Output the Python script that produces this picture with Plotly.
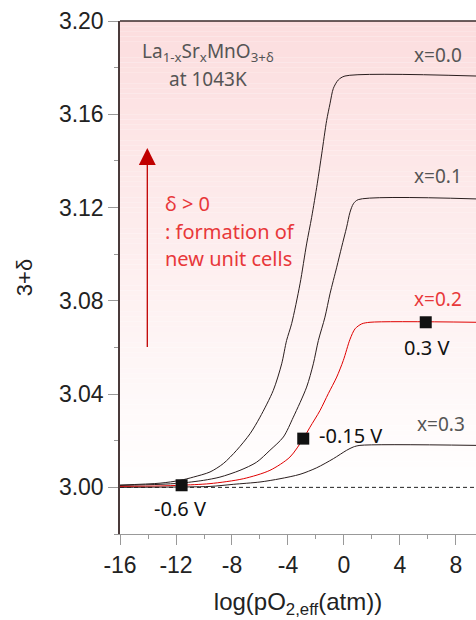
import plotly.graph_objects as go

# log(pO2,eff) readings and oxygen content 3+delta for each Sr content x
x00_logp = [-16.0, -13.14, -11.71, -10.76, -9.57, -8.62, -7.67, -6.71, -6.0, -5.05, -4.45, -4.1,
            -3.74, -3.14, -2.67, -2.31, -1.91, -1.59, -1.24, -1.0, -0.76, -0.41, 0.07, 9.43]
x00_oxy = [3.0010, 3.0018, 3.0030, 3.0044, 3.0066, 3.0102, 3.0159, 3.0230, 3.0301, 3.0416, 3.0530, 3.0630,
           3.0702, 3.0873, 3.1044, 3.1158, 3.1302, 3.1430, 3.1573, 3.1645, 3.1711, 3.1747, 3.1764, 3.1764]

x01_logp = [-16.0, -13.14, -11.71, -10.05, -8.86, -7.43, -6.24, -5.29, -4.33, -3.62, -2.67, -2.19,
            -1.83, -1.36, -1.0, -0.52, -0.17, 0.19, 0.43, 0.67, 1.02, 9.43]
x01_oxy = [3.0008, 3.0013, 3.0018, 3.0030, 3.0044, 3.0073, 3.0108, 3.0159, 3.0216, 3.0301, 3.0430, 3.0530,
           3.0630, 3.0730, 3.0830, 3.0944, 3.1030, 3.1116, 3.1180, 3.1216, 3.1234, 3.1237]

x02_logp = [-16.0, -13.14, -11.71, -9.57, -7.19, -5.29, -3.86, -2.91, -2.43, -1.71, -1.12, -0.52,
            -0.05, 0.43, 0.79, 1.26, 1.86, 9.43]
x02_oxy = [3.0004, 3.0006, 3.0009, 3.0016, 3.0037, 3.0073, 3.0130, 3.0209, 3.0258, 3.0330, 3.0402, 3.0473,
           3.0544, 3.0635, 3.0680, 3.0701, 3.0708, 3.0708]

x03_logp = [-16.0, -13.1, -9.57, -7.91, -6.0, -4.57, -3.14, -1.95, -0.76, 0.19, 0.66, 1.14, 9.43]
x03_oxy = [3.0000, 3.0001, 3.0004, 3.0013, 3.0023, 3.0037, 3.0056, 3.0084, 3.0123, 3.0159, 3.0173, 3.0180, 3.0180]

series_labels = ["x=0.0", "x=0.1", "x=0.2", "x=0.3"]
label_logp = [6.68, 6.68, 6.68, 6.93]
label_oxy = [3.1853, 3.1334, 3.0809, 3.0273]

# applied bias points on the x=0.2 curve
bias_labels = ["0.3 V", "-0.15 V", "-0.6 V"]
bias_logp = [5.84, -2.91, -11.6]
bias_oxy = [3.0708, 3.0209, 3.0009]
bias_text_logp = [5.86, 0.5, -11.68]
bias_text_oxy = [3.0598, 3.0223, 2.9910]

# axis ticks (plain hyphen minus signs)
x_tickvals = [-16, -12, -8, -4, 0, 4, 8]
x_ticktext = ["-16", "-12", "-8", "-4", "0", "4", "8"]
y_tickvals = [3.00, 3.04, 3.08, 3.12, 3.16, 3.20]
y_ticktext = ["3.00", "3.04", "3.08", "3.12", "3.16", "3.20"]

X_RANGE = [-16, 9.43]
Y_RANGE = [2.98, 3.20]

CURVE_DARK = "#2a1e1e"
CURVE_RED = "#e00000"

fig = go.Figure()

# pink-to-white vertical gradient behind the curves
shapes = []
n_bands = 90
y_top, y_white = 3.20, 3.0
top_rgb = (252, 221, 222)
for i in range(n_bands):
    y0 = y_white + (y_top - y_white) * i / n_bands
    y1 = y_white + (y_top - y_white) * (i + 1) / n_bands
    f = (i + 0.5) / n_bands
    r = round(255 + (top_rgb[0] - 255) * f)
    g = round(255 + (top_rgb[1] - 255) * f)
    b = round(255 + (top_rgb[2] - 255) * f)
    shapes.append(dict(type="rect", xref="paper", yref="y", x0=0, x1=1, y0=y0, y1=y1,
                       fillcolor=f"rgb({r},{g},{b})", line=dict(width=0), layer="below"))

# top frame line
shapes.append(dict(type="line", xref="paper", yref="paper", x0=0, x1=1, y0=1, y1=1,
                   line=dict(color="#3a2a2a", width=1.5)))

# delta = 0 reference
fig.add_trace(go.Scatter(x=X_RANGE, y=[3.0, 3.0], mode="lines",
                         line=dict(color="#222", width=1, dash="4px,3px"),
                         hoverinfo="skip", showlegend=False))

curves = [(x00_logp, x00_oxy, CURVE_DARK), (x01_logp, x01_oxy, CURVE_DARK),
          (x02_logp, x02_oxy, CURVE_RED), (x03_logp, x03_oxy, CURVE_DARK)]
for (xs, ys, col), name in zip(curves, series_labels):
    fig.add_trace(go.Scatter(x=xs, y=ys, mode="lines", name=name,
                             line=dict(color=col, width=1, shape="spline", smoothing=0.8),
                             showlegend=False))

fig.add_trace(go.Scatter(x=bias_logp, y=bias_oxy, mode="markers",
                         marker=dict(symbol="square", size=12, color="#111"),
                         showlegend=False))

annotations = []
label_colors = ["#555555", "#555555", "#e8383a", "#555555"]
for t, lx, ly, c in zip(series_labels, label_logp, label_oxy, label_colors):
    annotations.append(dict(x=lx, y=ly, xref="x", yref="y", text=t, showarrow=False,
                            font=dict(family="Noto Sans", size=19, color=c)))

for t, lx, ly in zip(bias_labels, bias_text_logp, bias_text_oxy):
    annotations.append(dict(x=lx, y=ly, xref="x", yref="y", text=t, showarrow=False,
                            font=dict(family="Noto Sans", size=20, color="#111")))

annotations += [
    dict(x=-9.7, y=3.1868, xref="x", yref="y", showarrow=False,
         text="La<sub>1-x</sub>Sr<sub>x</sub>MnO<sub>3+δ</sub>",
         font=dict(family="Noto Sans", size=19, color="#555555")),
    dict(x=-9.7, y=3.1750, xref="x", yref="y", showarrow=False, text="at 1043K",
         font=dict(family="Noto Sans", size=19, color="#555555")),
    dict(x=-12.93, y=3.1218, xref="x", yref="y", xanchor="left", showarrow=False, text="δ > 0",
         font=dict(family="Noto Sans", size=20, color="#e8383a")),
    dict(x=-12.93, y=3.1097, xref="x", yref="y", xanchor="left", showarrow=False, text=": formation of",
         font=dict(family="Noto Sans", size=20, color="#e8383a")),
    dict(x=-12.93, y=3.0982, xref="x", yref="y", xanchor="left", showarrow=False, text="new unit cells",
         font=dict(family="Noto Sans", size=20, color="#e8383a")),
    # upward arrow
    dict(x=-14.05, y=3.1455, ax=-14.05, ay=3.0596, xref="x", yref="y", axref="x", ayref="y",
         text="", showarrow=True, arrowhead=2, arrowsize=2.6, arrowwidth=1.3, arrowcolor="#c00000"),
]

tick_font = dict(family="Liberation Sans, Arial", size=23, color="#222")

fig.update_layout(
    width=476, height=620,
    margin=dict(l=120, r=0, t=21, b=86),
    paper_bgcolor="white", plot_bgcolor="white",
    shapes=shapes, annotations=annotations,
    xaxis=dict(range=X_RANGE, tickmode="array", tickvals=x_tickvals, ticktext=x_ticktext,
               ticks="outside", ticklen=10, tickwidth=1,
               tickcolor="#999", showline=True, linecolor="#999", linewidth=1,
               showgrid=False, zeroline=False, tickfont=tick_font,
               minor=dict(tickmode="linear", tick0=-16, dtick=2, ticks="outside", ticklen=4,
                          tickcolor="#999", showgrid=False),
               title=dict(text="log(pO<sub>2,eff</sub>(atm))", standoff=16,
                          font=dict(family="Liberation Sans, Arial", size=24, color="#222"))),
    yaxis=dict(range=Y_RANGE, tickmode="array", tickvals=y_tickvals, ticktext=y_ticktext,
               ticks="outside", ticklen=10, tickwidth=1, tickcolor="#999", showline=True,
               linecolor="#4a3a3a", linewidth=1.5, showgrid=False, zeroline=False, tickfont=tick_font,
               minor=dict(tickmode="linear", tick0=2.98, dtick=0.02, ticks="outside", ticklen=4,
                          tickcolor="#999", showgrid=False),
               title=dict(text="3+δ", standoff=20,
                          font=dict(family="Liberation Sans, Arial", size=22, color="#222"))),
)

fig.write_html("out.html")
